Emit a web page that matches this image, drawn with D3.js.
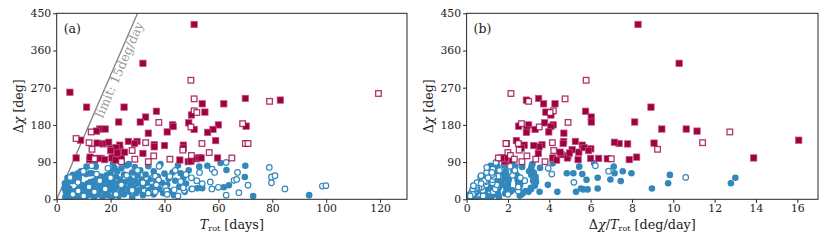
<!DOCTYPE html>
<html>
<head>
<meta charset="utf-8">
<script src="https://cdn.jsdelivr.net/npm/d3@7"></script>
<style>
  body { margin: 0; background: #fff; }
  text { font-family: "DejaVu Serif", serif; fill: #1a1a1a; }
</style>
</head>
<body>
<div id="chart"></div>
<script>
// Each point is [T_rot (days), delta chi (deg)]; panel (b) plots delta chi / T_rot
const redFilled = [
  [51, 423], [32, 329], [4.9, 259], [11.1, 223], [25, 223], [70, 244], [83, 240],
  [54, 231], [62, 231], [37, 213], [55, 211], [50, 204], [33, 199], [23, 187],
  [31, 187], [49, 185], [60, 180], [43, 180], [43.2, 176], [70.3, 177], [51, 169],
  [16, 170], [18, 170], [14.8, 165], [58, 169], [41, 163], [56, 162], [34, 160],
  [8.9, 143], [59, 142], [26.6, 140], [29.8, 140], [15, 136], [17.2, 134],
  [28.9, 135], [36.2, 132], [36.2, 127], [47, 131], [47, 124], [40, 130],
  [7.2, 100], [12.2, 96], [12.4, 102], [14.4, 98], [15.5, 99], [16.5, 99],
  [17.8, 96], [18.3, 135], [19.3, 138], [20.3, 122], [21, 114], [21.4, 105],
  [23.5, 120], [23.6, 108], [24, 100], [23.4, 131], [22, 125], [20.5, 100],
  [22.5, 112], [20, 118], [21.8, 95], [32, 111], [45.7, 95], [48.8, 91],
  [49.8, 92], [51.7, 98], [52.8, 101], [53.6, 100], [59.7, 100], [25.2, 114]
];

const redOpen = [
  [49.8, 288], [51, 243], [119.4, 256], [79, 237], [51, 214], [52, 210],
  [37.9, 186], [49.8, 175], [69, 183], [7.2, 147], [12.8, 163], [12, 137],
  [13.1, 121], [33, 137], [53.9, 135], [70, 135], [71, 135], [28, 118],
  [46.8, 119], [56.6, 113], [36, 105], [50, 106], [65, 100], [42, 97],
  [34, 91], [24, 91], [29, 97], [14, 98]
];

const blueFilled = [
  // fast ones (large ratio in panel b)
  [20.9, 87], [8.9, 35], [4.1, 18], [5.1, 18], [13, 63], [12.2, 63], [14.5, 79],
  [10.9, 61], [8.1, 47], [3.4, 18], [4.7, 26], [4.25, 24], [4.1, 24], [14.1, 87],
  [8.2, 52], [4.1, 26], [6.9, 48], [11.1, 79], [8.8, 63], [5.9, 44], [9, 68],
  [7.9, 63], [2.9, 26], [6, 59], [4, 39], [3.05, 39], [4, 52], [26.7, 85], [21.4, 76],
  // bulk
  [3.2, 5], [3.5, 9], [4, 3], [4.5, 12], [5, 6], [5.5, 15], [6, 4], [6, 18],
  [6.5, 10], [7, 20], [7, 3], [7.5, 14], [8, 25], [8, 8], [8.5, 18],
  [9, 28], [9, 12], [9.5, 4], [10, 22], [10, 33], [10.5, 15], [11, 8], [11, 28],
  [11.5, 38], [12, 18], [12, 30], [12.5, 42], [13, 10], [13, 25], [13.5, 35],
  [14, 45], [14, 6], [14.5, 20],
  [15, 30], [15, 50], [15.5, 12], [16, 40], [16, 22], [16.5, 55], [17, 5],
  [17, 33], [17.5, 45], [18, 16], [18, 28], [18.5, 58], [19, 38], [19, 10],
  [19.5, 48], [20, 24], [20, 65], [20.5, 35], [20.5, 3],
  [21, 42], [21.5, 15], [22, 55], [22, 28], [22.5, 68], [23, 8], [23, 38],
  [23.5, 48], [24, 20], [24, 75], [24.5, 32], [25, 60], [25, 12], [25.5, 42],
  [26, 26], [26, 82],
  [27, 50], [27, 18], [27.5, 35], [28, 65], [28, 5], [28.5, 28], [29, 45],
  [29, 78], [29.5, 15], [30, 38], [30, 58], [30.5, 22], [31, 70], [31.5, 48],
  [32, 10], [32, 32],
  [33, 60], [33.5, 40], [34, 22], [34, 80], [35, 50], [35.5, 30], [36, 12],
  [36, 68], [37, 42], [37.5, 55], [38, 25], [38.5, 85], [39, 40], [39.5, 15],
  [40, 62],
  [41, 35], [41.5, 50], [42, 20], [43, 65], [43.5, 10], [44, 45], [45, 82],
  [45.5, 30], [46, 63], [47, 52], [47.5, 18], [48, 38], [49, 70], [50, 25],
  // slow ones
  [52.9, 79], [55.9, 81], [60.8, 88], [63, 71], [70, 81], [69.8, 54], [63.9, 34],
  [62, 29], [52.2, 27], [54, 27], [72.9, 8], [93.7, 10]
];

const blueOpen = [
  [14.8, 61], [19, 75], [7.9, 41], [13, 81], [9.9, 68], [5, 53],
  [6, 12], [8, 20], [10, 8], [12, 30], [14, 18], [16, 45], [18, 25], [20, 52],
  [22, 12], [24, 35], [26, 58], [28, 22], [30, 70], [32, 40], [34, 15], [36, 55],
  [36.6, 56], [37.8, 47], [37, 35], [36.6, 18], [40.4, 29], [40.8, 21], [43.6, 23],
  [46, 43], [47.3, 21], [47, 28], [50.3, 25], [57.6, 25], [60, 29], [71, 34],
  [62.9, 10], [67.6, 16], [57, 42], [57.7, 73], [58.6, 65], [65.8, 46], [66.8, 48],
  [67.1, 65], [62.9, 89], [78.9, 77], [79.7, 54], [81, 57], [79.7, 40], [84.7, 25],
  [98.6, 32], [99.9, 33], [42, 55], [44, 70], [48, 60], [52, 45], [54, 38],
  [38, 80], [41, 12], [45, 8], [50, 52], [53, 65]
];

const yTicks = [0, 90, 180, 270, 360, 450];
const xTicksA = [0, 20, 40, 60, 80, 100, 120];
const xTicksB = [0, 2, 4, 6, 8, 10, 12, 14, 16];
const limitRate = 15; // deg/day

const width = 830, height = 246;
const blue = "#3288bd", red = "#9e0142";

const svg = d3.select("#chart").append("svg")
  .attr("width", width).attr("height", height);

const panels = [
  { id: "a", left: 56.7, right: 407, xMax: 130, ticks: xTicksA, xval: (d) => d[0] },
  { id: "b", left: 466.6, right: 818, xMax: 17, ticks: xTicksB, xval: (d) => d[1] / d[0] }
];
const plotTop = 13.3, plotBottom = 199.3;

panels.forEach((p) => {
  const x = d3.scaleLinear().domain([0, p.xMax]).range([p.left, p.right]);
  const y = d3.scaleLinear().domain([0, 450]).range([plotBottom, plotTop]);
  const g = svg.append("g");

  g.append("clipPath").attr("id", "clip-" + p.id)
    .append("rect")
    .attr("x", p.left).attr("y", plotTop)
    .attr("width", p.right - p.left).attr("height", plotBottom - plotTop);

  const plot = g.append("g").attr("clip-path", `url(#clip-${p.id})`);

  if (p.id === "a") {
    plot.append("line")
      .attr("x1", x(0)).attr("y1", y(0))
      .attr("x2", x(450 / limitRate)).attr("y2", y(450))
      .attr("stroke", "#808080").attr("stroke-width", 1.3);
    const ang = Math.atan2(y(0) - y(limitRate), x(1) - x(0)) * 180 / Math.PI;
    g.append("text")
      .attr("transform", `translate(${x(17.1)},${y(195)}) rotate(${-ang})`)
      .style("font-size", "12.5px")
      .style("fill", "#9a9a9a")
      .text("limit: 15deg/day");
  }

  // blue filled, blue open, red filled, red open
  plot.selectAll(".bf").data(blueFilled).enter().append("circle")
    .attr("cx", (d) => x(p.xval(d))).attr("cy", (d) => y(d[1]))
    .attr("r", 3.3).attr("fill", blue);

  plot.selectAll(".bo").data(blueOpen).enter().append("circle")
    .attr("cx", (d) => x(p.xval(d))).attr("cy", (d) => y(d[1]))
    .attr("r", 2.8).attr("fill", "#fff")
    .attr("stroke", blue).attr("stroke-width", 1.2);

  plot.selectAll(".rf").data(redFilled).enter().append("rect")
    .attr("x", (d) => x(p.xval(d)) - 3.2).attr("y", (d) => y(d[1]) - 3.2)
    .attr("width", 6.4).attr("height", 6.4)
    .attr("fill", red).attr("stroke", "#c4547f").attr("stroke-width", 0.7);

  plot.selectAll(".ro").data(redOpen).enter().append("rect")
    .attr("x", (d) => x(p.xval(d)) - 2.8).attr("y", (d) => y(d[1]) - 2.8)
    .attr("width", 5.6).attr("height", 5.6)
    .attr("fill", "#fff").attr("stroke", red)
    .attr("stroke-opacity", 0.8).attr("stroke-width", 1.3);

  // axes
  const xAxis = g.append("g")
    .attr("transform", `translate(0,${plotBottom})`)
    .call(d3.axisBottom(x).tickValues(p.ticks).tickSize(3.5).tickPadding(2));
  const yAxis = g.append("g")
    .attr("transform", `translate(${p.left},0)`)
    .call(d3.axisLeft(y).tickValues(yTicks).tickSize(3.5).tickPadding(2));
  [xAxis, yAxis].forEach((a) => {
    a.select(".domain").remove();
    a.selectAll("line").attr("stroke", "#262626");
    a.selectAll("text").style("font-size", "10.8px").style("font-family", "DejaVu Serif, serif");
  });

  g.append("rect")
    .attr("x", p.left).attr("y", plotTop)
    .attr("width", p.right - p.left).attr("height", plotBottom - plotTop)
    .attr("fill", "none").attr("stroke", "#262626").attr("stroke-width", 1);

  g.append("text")
    .attr("x", p.left + 7).attr("y", plotTop + 20)
    .style("font-size", "12.5px")
    .text(`(${p.id})`);

  // y label
  const yl = g.append("text")
    .attr("transform", `translate(${p.left - 34},${(plotTop + plotBottom) / 2}) rotate(-90)`)
    .attr("text-anchor", "middle")
    .style("font-size", "12.5px");
  yl.append("tspan").text("Δ");
  yl.append("tspan").style("font-style", "italic").text("χ");
  yl.append("tspan").text(" [deg]");

  // x label
  const xl = g.append("text")
    .attr("x", (p.left + p.right) / 2).attr("y", plotBottom + 29.5)
    .attr("text-anchor", "middle")
    .style("font-size", "12.8px");
  if (p.id === "b") {
    xl.append("tspan").text("Δ");
    xl.append("tspan").style("font-style", "italic").text("χ");
    xl.append("tspan").text("/");
  }
  xl.append("tspan").style("font-style", "italic").text("T");
  xl.append("tspan").attr("dy", 2.5).style("font-size", "8px").text("rot");
  xl.append("tspan").attr("dy", -2.5).text(" [" + (p.id === "a" ? "days" : "deg/day") + "]");
});
</script>
</body>
</html>
